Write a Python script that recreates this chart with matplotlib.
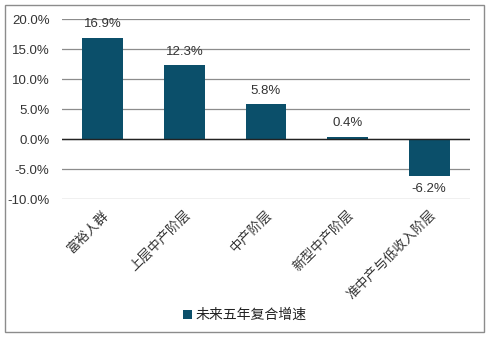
import matplotlib
matplotlib.use("Agg")
import matplotlib.pyplot as plt
from matplotlib.patches import Rectangle
from matplotlib.ticker import FuncFormatter

plt.rcParams['font.family'] = ['Noto Sans CJK SC', 'DejaVu Sans']

categories = ["富裕人群", "上层中产阶层", "中产阶层", "新型中产阶层", "准中产与低收入阶层"]
growth = [16.9, 12.3, 5.8, 0.4, -6.2]
series_name = "未来五年复合增速"
bar_color = "#0B4F6A"
num_font = ["Liberation Sans", "DejaVu Sans"]

fig = plt.figure(figsize=(4.88, 3.37), dpi=100)
ax = fig.add_axes([62 / 488, 1 - 199 / 337, (470 - 62) / 488, (199 - 19) / 337])

x = range(len(categories))
bars = ax.bar(x, growth, width=0.5, color=bar_color, label=series_name, zorder=3)

ax.set_ylim(-10, 20)
ax.set_xlim(-0.5, len(categories) - 0.5)
ax.set_yticks([-10, -5, 0, 5, 10, 15, 20])
ax.yaxis.set_major_formatter(FuncFormatter(lambda v, p: f"{v:.1f}%"))
ax.grid(axis="y", color="#8c8c8c", linewidth=0.9, zorder=0)
ax.axhline(0, color="#222222", linewidth=1.0, zorder=4)
for s in ax.spines.values():
    s.set_visible(False)
ax.tick_params(axis="y", length=0, colors="#333333", pad=9)
for lbl in ax.get_yticklabels():
    lbl.set_family(num_font)
    lbl.set_fontsize(9.5)
ax.tick_params(axis="x", length=0, pad=7)
ax.set_xticks(list(x))
ax.set_xticklabels(categories, rotation=45, ha="right", rotation_mode="anchor",
                   fontsize=9.5, color="#333333")

for xi, v in zip(x, growth):
    off = 1.2 if v >= 0 else -1.2
    ax.text(xi, v + off, f"{v:.1f}%", ha="center", va="bottom" if v >= 0 else "top",
            fontsize=9.5, color="#333333", family=num_font)

fig.legend(handles=[bars], labels=[series_name], loc="center", bbox_to_anchor=(245 / 488, 1 - 315 / 337),
           frameon=False, fontsize=10, handlelength=0.6, handleheight=0.6, handletextpad=0.3,
           labelcolor="#222222")

fig.patches.append(Rectangle((5 / 488, 5 / 337), 479 / 488, 327 / 337, transform=fig.transFigure,
                             fill=False, edgecolor="#8c8c8c", linewidth=1.0))

fig.savefig("out.png", dpi=100)
